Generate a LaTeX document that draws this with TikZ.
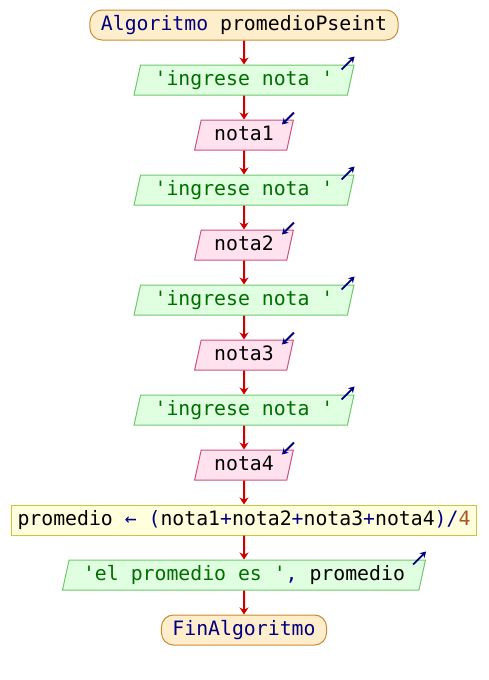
\documentclass[tikz,border=0pt]{standalone}
\usepackage{xcolor}
\usepackage{fontspec}
\setmonofont{DejaVu Sans Mono}
\usepackage{tikz}
\definecolor{termfill}{RGB}{255,238,204}
\definecolor{termdraw}{RGB}{204,136,51}
\definecolor{outfill}{RGB}{224,255,224}
\definecolor{outdraw}{RGB}{110,200,110}
\definecolor{infill}{RGB}{255,226,238}
\definecolor{indraw}{RGB}{204,80,130}
\definecolor{asgfill}{RGB}{255,255,221}
\definecolor{asgdraw}{RGB}{200,200,60}
\definecolor{kwnavy}{RGB}{0,0,128}
\definecolor{strgreen}{RGB}{0,110,0}
\definecolor{numbrown}{RGB}{170,85,40}
\definecolor{flowred}{RGB}{204,0,0}
\usetikzlibrary{shapes,arrows.meta,positioning,calc}
\newcommand{\pkw}[1]{\textcolor{kwnavy}{#1}}
\newcommand{\pstr}[1]{\textcolor{strgreen}{#1}}
\newcommand{\pnum}[1]{\textcolor{numbrown}{#1}}

\begin{document}
\begin{tikzpicture}[
    node distance=27.5pt,
    base/.style={font=\ttfamily\fontsize{9.9}{11}\selectfont, text height=7pt, text depth=2pt, minimum height=15pt, inner ysep=0pt, line width=0.5pt},
    term/.style={base, rectangle, rounded corners=6pt, inner xsep=5.5pt, fill=termfill, draw=termdraw},
    salida/.style={base, trapezium, trapezium left angle=70, trapezium right angle=110, trapezium stretches=true, inner xsep=7pt, fill=outfill, draw=outdraw},
    entrada/.style={base, trapezium, trapezium left angle=70, trapezium right angle=110, trapezium stretches=true, inner xsep=6.5pt, fill=infill, draw=indraw},
    asig/.style={base, rectangle, inner xsep=3pt, fill=asgfill, draw=asgdraw},
    flow/.style={-{Stealth[length=3.5pt,width=4.5pt]}, flowred, line width=1pt},
    icono/.style={-{Stealth[length=3pt,width=3.5pt]}, kwnavy, line width=0.9pt}
]
\useasboundingbox (0,0) rectangle (244pt,-340pt);

\node[term] (inicio) at (122pt,-12.5pt) {\pkw{Algoritmo} promedioPseint};
\node[salida, below of=inicio] (sal1) {\pstr{'ingrese nota '}};
\node[entrada, below of=sal1] (nota1) {nota1};
\node[salida, below of=nota1] (sal2) {\pstr{'ingrese nota '}};
\node[entrada, below of=sal2] (nota2) {nota2};
\node[salida, below of=nota2] (sal3) {\pstr{'ingrese nota '}};
\node[entrada, below of=sal3] (nota3) {nota3};
\node[salida, below of=nota3] (sal4) {\pstr{'ingrese nota '}};
\node[entrada, below of=sal4] (nota4) {nota4};
\node[asig, below of=nota4] (prom) {promedio \pkw{← (}nota1\pkw{+}nota2\pkw{+}nota3\pkw{+}nota4\pkw{)/}\pnum{4}};
\node[salida, below of=prom] (sal5) {\pstr{'el promedio es '}\pkw{,} promedio};
\node[term, below of=sal5] (fin) {\pkw{FinAlgoritmo}};

% flujo
\draw[flow] (inicio) -- (sal1);
\draw[flow] (sal1) -- (nota1);
\draw[flow] (nota1) -- (sal2);
\draw[flow] (sal2) -- (nota2);
\draw[flow] (nota2) -- (sal3);
\draw[flow] (sal3) -- (nota3);
\draw[flow] (nota3) -- (sal4);
\draw[flow] (sal4) -- (nota4);
\draw[flow] (nota4) -- (prom);
\draw[flow] (prom) -- (sal5);
\draw[flow] (sal5) -- (fin);

% iconos de entrada/salida
\foreach \s in {sal1,sal2,sal3,sal4,sal5}
  \draw[icono] ([shift={(-6.5pt,-2.5pt)}]\s.top right corner) -- ([yshift=4pt]\s.top right corner);
\foreach \e in {nota1,nota2,nota3,nota4}
  \draw[icono] ([yshift=3.5pt]\e.top right corner) -- ([shift={(-6pt,-2.5pt)}]\e.top right corner);

\end{tikzpicture}
\end{document}
